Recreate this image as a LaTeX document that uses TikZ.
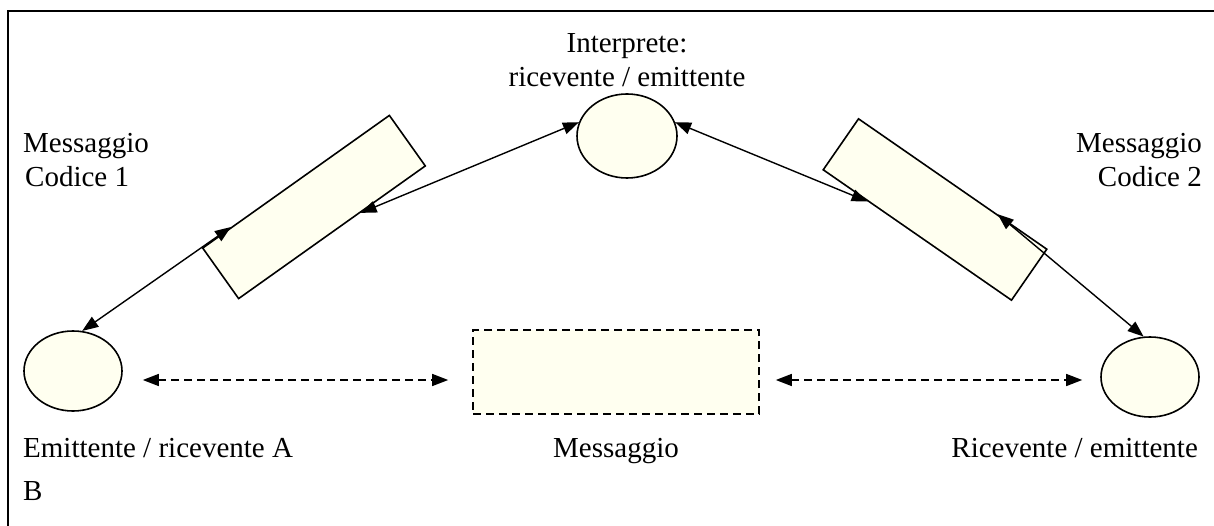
\documentclass[tikz,border=0pt]{standalone}
\usepackage{fontspec}
\setmainfont{Liberation Serif}
\usetikzlibrary{arrows.meta,calc,shapes.geometric}
\definecolor{cream}{HTML}{FFFFF0}
\begin{document}
\begin{tikzpicture}[x=1pt,y=-1pt,
  lbl/.style={font=\fontsize{29}{34}\selectfont, inner sep=0pt},
  oval/.style={ellipse, draw, line width=1.6pt, fill=cream,
    minimum width=98pt, minimum height=80pt, inner sep=0pt},
  slab/.style={rectangle, draw, line width=1.6pt, fill=cream,
    minimum width=229pt, minimum height=62pt, inner sep=0pt},
  msgbox/.style={rectangle, draw, line width=1.6pt, fill=cream,
    dash pattern=on 8pt off 5pt, minimum width=286pt, minimum height=84pt, inner sep=0pt},
  link/.style={line width=1.4pt,
    {Triangle[length=16pt,width=12pt]}-{Triangle[length=16pt,width=12pt]}},
  dlink/.style={link, dash pattern=on 8pt off 5pt},
]
\useasboundingbox (0,0) rectangle (1214,526);

% frame (only the left and top edges fall inside the page)
\coordinate (fbl) at (8,526);
\coordinate (ftl) at (8,11);
\coordinate (ftr) at (1214,11);
\draw[line width=2pt] (fbl) -- (ftl) -- (ftr);

% participants
\node[oval] (ea) at (73,371) {};
\node[oval] (eb) at (1150,377) {};
\node[oval, minimum width=100pt, minimum height=84pt] (ei) at (627,136) {};

% coded messages
\node[slab, rotate=35.4] (m1) at (314,207) {};
\node[slab, rotate=-34.7] (m2) at (935,209.5) {};
\node[msgbox] (mm) at (616,372) {};

% exchanges
\draw[link] (ea.77) -- ($(m1.north west)!0.156!(m1.north east)$);
\draw[link] ($(m1.south west)!0.65!(m1.south east)$) -- (ei.164);
\draw[link] (ei.16) -- ($(m2.south west)!0.24!(m2.south east)$);
\draw[link] ($(m2.north west)!0.735!(m2.north east)$) -- (eb.99);
\draw[dlink, shorten <=20pt, shorten >=24pt] ([yshift=-9pt]ea.east) -- ([yshift=-8pt]mm.west);
\draw[dlink, shorten <=16pt, shorten >=18pt] ([yshift=-8pt]mm.east) -- ([yshift=-3pt]eb.west);

% labels
\node[lbl, anchor=base] (t1) at (627,53) {Interprete:};
\node[lbl, anchor=base] (t2) at (627,87) {ricevente / emittente};
\node[lbl, anchor=base west] (t3) at (23,153) {Messaggio};
\node[lbl, anchor=base west] (t4) at (25,187) {Codice 1};
\node[lbl, anchor=base east] (t5) at (1202,153) {Messaggio};
\node[lbl, anchor=base east] (t6) at (1202,187) {Codice 2};
\node[lbl, anchor=base west] (t7) at (23,457) {Emittente / ricevente A};
\node[lbl, anchor=base west] (t8) at (23,500) {B};
\node[lbl, anchor=base] (t9) at (616,457) {Messaggio};
\node[lbl, anchor=base east] (t10) at (1198,457) {Ricevente / emittente};
\end{tikzpicture}
\end{document}
